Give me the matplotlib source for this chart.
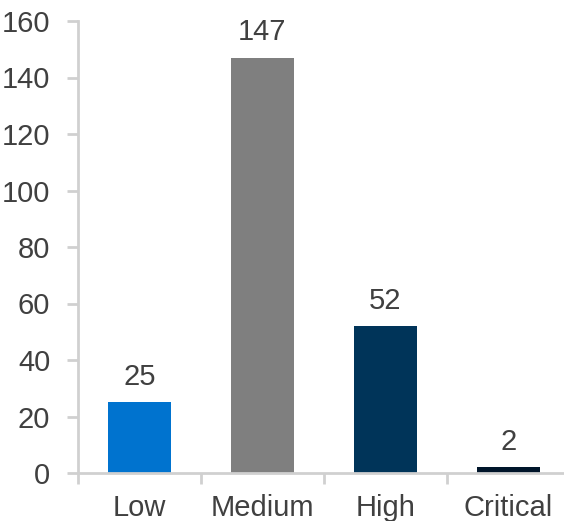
import matplotlib.pyplot as plt

plt.rcParams['font.family'] = ['Liberation Sans', 'DejaVu Sans']

# Counts per severity level
categories = ['Low', 'Medium', 'High', 'Critical']
counts = [25, 147, 52, 2]
colors = ['#0073CF', '#7F7F7F', '#003459', '#00152A']

text_color = '#404040'
axis_color = '#D0D0D0'

fig = plt.figure(figsize=(5.64, 5.21), dpi=100)
ax = fig.add_axes([78 / 564, 48 / 521, 492 / 564, 452 / 521])

x = range(len(categories))
bars = ax.bar(x, counts, width=0.52, color=colors)

for rect, v in zip(bars, counts):
    ax.text(rect.get_x() + rect.get_width() / 2, v + 4, str(v),
            ha='center', va='bottom', fontsize=21, color=text_color)

ax.set_xlim(-0.5, len(categories) - 0.5)
ax.set_ylim(0, 160)
ax.set_yticks(range(0, 161, 20))

# category labels centred, tick marks at the boundaries
ax.set_xticks(list(x))
ax.set_xticklabels(categories)
ax.set_xticks([i - 0.5 for i in range(len(categories) + 1)], minor=True)
ax.tick_params(axis='x', which='major', length=0, pad=15, labelsize=21, colors=text_color)
ax.tick_params(axis='x', which='minor', length=8, width=2, color=axis_color, direction='out')
ax.tick_params(axis='y', length=8, width=2, color=axis_color, pad=12, labelsize=21, labelcolor=text_color)

for side in ['top', 'right']:
    ax.spines[side].set_visible(False)
for side in ['left', 'bottom']:
    ax.spines[side].set_color(axis_color)
    ax.spines[side].set_linewidth(2)

fig.savefig('out.png', dpi=100)
